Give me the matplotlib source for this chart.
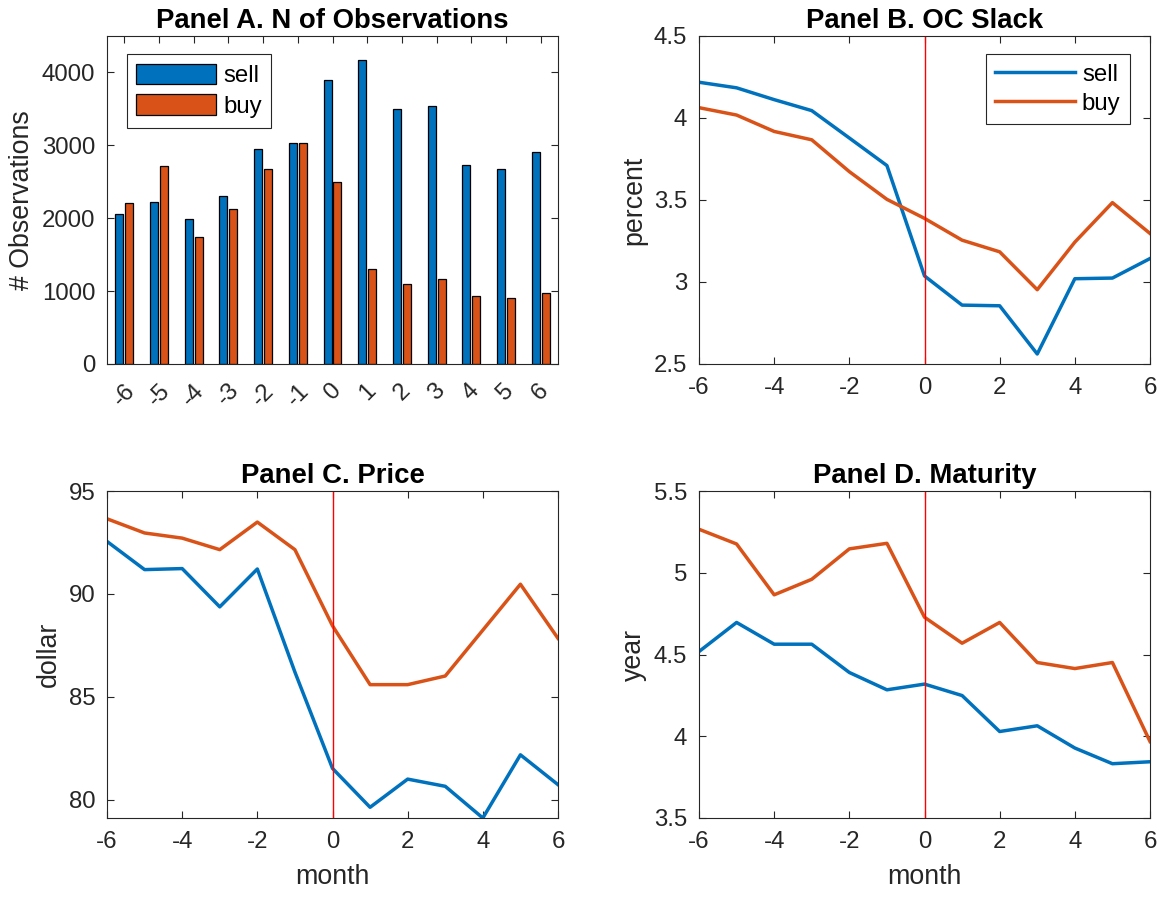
import numpy as np
import matplotlib
matplotlib.use('Agg')
import matplotlib.pyplot as plt

plt.rcParams['font.family'] = ['Liberation Sans', 'DejaVu Sans']
plt.rcParams['axes.unicode_minus'] = False

# data
months = np.arange(-6, 7)

n_sell = [2055, 2223, 1986, 2305, 2955, 3036, 3895, 4168, 3500, 3536, 2732, 2682, 2909]
n_buy = [2209, 2714, 1736, 2127, 2673, 3032, 2495, 1300, 1100, 1164, 936, 909, 973]

slack_sell = [4.218, 4.184, 4.112, 4.045, 3.878, 3.710, 3.037, 2.859, 2.855, 2.561, 3.020, 3.024, 3.143]
slack_buy = [4.063, 4.018, 3.918, 3.867, 3.673, 3.504, 3.388, 3.255, 3.184, 2.953, 3.243, 3.484, 3.296]

price_sell = [92.55, 91.18, 91.23, 89.37, 91.21, 86.2, 81.52, 79.63, 81.00, 80.65, 79.11, 82.18, 80.73]
price_buy = [93.65, 92.96, 92.71, 92.15, 93.49, 92.15, 88.45, 85.59, 85.59, 86.01, 88.24, 90.47, 87.84]

mat_sell = [4.518, 4.696, 4.563, 4.563, 4.390, 4.284, 4.319, 4.249, 4.029, 4.064, 3.928, 3.832, 3.844]
mat_buy = [5.266, 5.176, 4.865, 4.960, 5.146, 5.180, 4.728, 4.569, 4.696, 4.451, 4.414, 4.451, 3.968]

BLUE = '#0072BD'
ORANGE = '#D95319'
AX = '#262626'
TICK_FS = 17.3
LABEL_FS = 19.3
TITLE_FS = 19.8


def style_axes(ax):
    for s in ax.spines.values():
        s.set_color(AX)
        s.set_linewidth(0.8)
    ax.tick_params(direction='in', length=5, width=0.8, colors=AX,
                   labelsize=TICK_FS, top=True, right=True)
    ax.tick_params(axis='x', pad=9)
    ax.tick_params(axis='y', pad=8.5)


fig = plt.figure(figsize=(11.65, 8.98), dpi=100)
W, H = 1165, 898


def add_ax(l, t, r, b):
    return fig.add_axes([l / W, 1 - b / H, (r - l) / W, (b - t) / H])


axA = add_ax(107, 36, 558, 364)
axB = add_ax(699, 36, 1150, 364)
axC = add_ax(107, 491, 558, 818)
axD = add_ax(699, 491, 1150, 818)

# Panel A: grouped bars (MATLAB-style widths)
bw = 0.2286
off = 0.143
axA.bar(months - off, n_sell, bw, color=BLUE, edgecolor='black', linewidth=0.9, label='sell')
axA.bar(months + off, n_buy, bw, color=ORANGE, edgecolor='black', linewidth=0.9, label='buy')
axA.set_xlim(-6.5, 6.5)
axA.set_ylim(0, 4500)
axA.set_xticks(months)
axA.set_xticklabels([str(m) for m in months], rotation=45, ha='center', va='top')
axA.set_yticks([0, 1000, 2000, 3000, 4000])
axA.set_ylabel('# Observations', fontsize=LABEL_FS, color=AX, labelpad=5)
axA.set_title('Panel A. N of Observations', fontsize=TITLE_FS, fontweight='bold', pad=6)
style_axes(axA)
axA.tick_params(axis='x', pad=11, bottom=False)
legA = axA.legend(loc='upper left', bbox_to_anchor=(0.044, 0.945), borderaxespad=0,
                  fontsize=TICK_FS, fancybox=False, edgecolor=AX, handlelength=3.3,
                  handleheight=0.95, handletextpad=0.3, borderpad=0.4, labelspacing=0.3,
                  framealpha=1)
legA.get_frame().set_linewidth(0.8)


def line_panel(ax, sell, buy, ylim, yticks, ytl, ylabel, title, xlabel=None):
    ax.plot(months, sell, color=BLUE, lw=2.5, label='sell')
    ax.plot(months, buy, color=ORANGE, lw=2.5, label='buy')
    ax.axvline(0, color='red', lw=1.0)
    ax.set_xlim(-6, 6)
    ax.set_ylim(*ylim)
    ax.set_xticks([-6, -4, -2, 0, 2, 4, 6])
    ax.set_yticks(yticks)
    ax.set_yticklabels(ytl)
    ax.set_ylabel(ylabel, fontsize=LABEL_FS, color=AX, labelpad=5)
    ax.set_title(title, fontsize=TITLE_FS, fontweight='bold', pad=6)
    if xlabel:
        ax.set_xlabel(xlabel, fontsize=LABEL_FS, color=AX, labelpad=8)
    style_axes(ax)


line_panel(axB, slack_sell, slack_buy, (2.5, 4.5), [2.5, 3, 3.5, 4, 4.5],
           ['2.5', '3', '3.5', '4', '4.5'], 'percent', 'Panel B. OC Slack')
legB = axB.legend(loc='upper right', bbox_to_anchor=(0.956, 0.945), borderaxespad=0,
                  fontsize=TICK_FS, fancybox=False, edgecolor=AX, handlelength=3.3,
                  handletextpad=0.3, borderpad=0.4, labelspacing=0.3, framealpha=1)
legB.get_frame().set_linewidth(0.8)

line_panel(axC, price_sell, price_buy, (79.11, 95), [80, 85, 90, 95],
           ['80', '85', '90', '95'], 'dollar', 'Panel C. Price', 'month')
line_panel(axD, mat_sell, mat_buy, (3.5, 5.5), [3.5, 4, 4.5, 5, 5.5],
           ['3.5', '4', '4.5', '5', '5.5'], 'year', 'Panel D. Maturity', 'month')

fig.savefig('out.png', dpi=100)
